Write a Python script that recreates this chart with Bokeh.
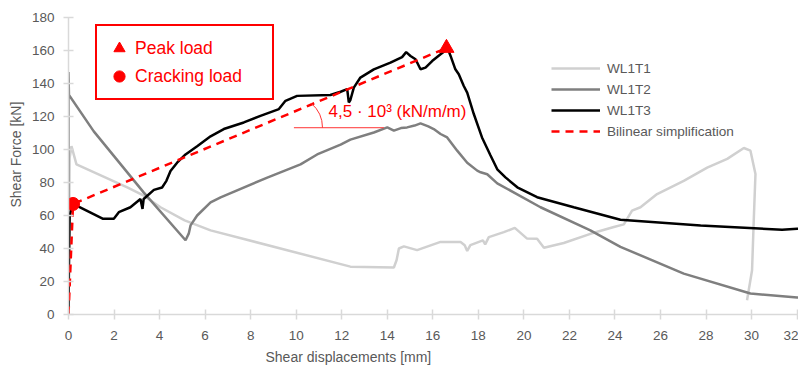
from bokeh.plotting import figure
from bokeh.models import Legend, LegendItem, Range1d, FixedTicker, Title
from bokeh.core.properties import value
from bokeh.embed import file_html
from bokeh.resources import INLINE

# Shear force vs. shear displacement for three wall specimens
wl1t1_x = [0, 0.05, 0.13, 0.35, 2.58, 3.31, 4.04, 5.1, 6.24, 9.31, 12.38, 14.29, 14.41, 14.51,
           14.73, 15.31, 16.34, 17.22, 17.4, 17.51, 17.65, 18.2, 18.3, 18.46, 19.12, 19.6, 20.14,
           20.58, 20.88, 21.75, 22.92, 23.95, 24.39, 24.75, 25.12, 25.85, 27.02, 28.05, 28.93,
           29.66, 29.95, 30.17, 30.1, 30.02, 29.8]
wl1t1_y = [0, 95, 102, 91, 77, 72, 65, 57, 51, 40, 29, 28.5, 33, 40,
           41.3, 39, 44, 43.9, 42, 38.5, 42, 44.9, 42.5, 46.9, 49.9, 52.5, 46,
           45.9, 40.5, 43.3, 48.9, 53, 54.6, 63, 65, 73, 81, 89, 94.3,
           100.9, 99.3, 85.2, 59, 26.8, 8.6]

wl1t2_x = [0, 0, 0.02, 1.11, 3.3, 5.14, 5.28, 5.36, 5.65, 6.24, 6.68, 8.73, 10.19, 10.92, 11.95,
           12.38, 13.41, 14.0, 14.29, 14.6, 14.87, 15.2, 15.46, 15.8, 16.04, 16.34, 16.63, 17.07,
           17.51, 17.95, 18.1, 18.39, 18.83, 20.73, 22.92, 24.24, 27.02, 29.95, 32.0, 32.2]
wl1t2_y = [0, 147, 133, 111, 74, 45, 49, 54, 60, 68, 71, 83, 91, 97, 103,
           106, 110.3, 113.4, 111.4, 113, 113.4, 114.5, 115.8, 114, 112.4, 109.4, 107.3, 99.3,
           92, 87.2, 86.2, 85, 79.5, 65, 51, 41, 24.8, 12.7, 10.3, 10]

wl1t3_x = [0, 0.02, 0.05, 0.2, 1.52, 1.99, 2.21, 2.72, 3.16, 3.25, 3.3, 3.75, 4.11, 4.3, 4.48,
           4.77, 5.14, 5.65, 6.24, 6.82, 7.7, 8.43, 9.24, 9.53, 10.04, 11.5, 11.95, 12.24, 12.31,
           12.38, 12.53, 12.82, 13.41, 14.14, 14.65, 14.83, 15.02, 15.24, 15.46, 15.68, 15.97,
           16.34, 16.66, 16.78, 16.99, 17.14, 17.36, 17.51, 17.8, 18.16, 18.53, 18.83, 19.19,
           19.71, 20.58, 22.19, 24.24, 27.76, 31.34, 32.0, 32.2]
wl1t3_y = [0, 30, 60, 67, 58, 58, 62, 65, 70, 64, 70, 75.5, 77, 81, 87,
           92, 97, 102, 108, 112.4, 116.4, 120.4, 124.5, 129.5, 132.5, 133, 135, 136.6, 128.5,
           130, 137.5, 143.6, 148.6, 152.6, 156, 159, 156.7, 154.7, 148.6, 149.6, 153.6,
           157.7, 161, 156.7, 148.6, 145.6, 138.5, 134.5, 121.5, 107.3, 96.5, 88, 83.1,
           77.1, 71.1, 65, 57.4, 54, 51.4, 52, 52]

# Bilinear simplification: origin -> cracking load -> peak load
bilinear_x = [0, 0.2, 16.6]
bilinear_y = [0, 67, 161.5]
peak_x, peak_y = [16.6], [161.5]
crack_x, crack_y = [0.2], [67]

# Stiffness annotation
stiffness_text = ["4,5 · 10³ (kN/m/m)"]
stiffness_text_x, stiffness_text_y = [11.42], [122.8]
stiffness_ref_x = [9.9, 13.85]
stiffness_ref_y = [113.2, 113.2]
stiffness_arc_x, stiffness_arc_y = [9.75], [113.2]

x_ticks = list(range(0, 33, 2))
y_ticks = list(range(0, 181, 20))

FONT = "Liberation Sans"
TEXT_GRAY = "#595959"
AXIS_GRAY = "#d9d9d9"

p = figure(width=798, height=371, output_backend="svg", toolbar_location=None,
           x_range=Range1d(0, 32.06), y_range=Range1d(0, 180),
           min_border_left=68, min_border_right=0, min_border_top=17, min_border_bottom=57)
p.outline_line_color = None
p.xgrid.visible = False
p.ygrid.visible = False

for ax in (p.xaxis[0], p.yaxis[0]):
    ax.axis_line_color = AXIS_GRAY
    ax.axis_line_width = 1.5
    ax.major_tick_line_color = AXIS_GRAY
    ax.major_tick_line_width = 1.5
    ax.major_tick_in = 5
    ax.major_tick_out = 5
    ax.minor_tick_line_color = None
    ax.major_label_text_font = FONT
    ax.major_label_text_font_size = "13.5px"
    ax.major_label_text_color = TEXT_GRAY
p.xaxis.ticker = FixedTicker(ticks=x_ticks)
p.yaxis.ticker = FixedTicker(ticks=y_ticks)
p.xaxis.major_label_standoff = 11
p.yaxis.major_label_standoff = 9

r_t1 = p.line(wl1t1_x, wl1t1_y, line_color="#d0d0d0", line_width=2.5)
r_t2 = p.line(wl1t2_x, wl1t2_y, line_color="#7f7f7f", line_width=2.5)
r_t3 = p.line(wl1t3_x, wl1t3_y, line_color="#000000", line_width=2.5)
r_bl = p.line(bilinear_x, bilinear_y, line_color="#ff0000", line_width=2.5, line_dash="8 6")
r_peak = p.scatter(peak_x, peak_y, marker="triangle", size=15, color="#ff0000")
r_crack = p.scatter(crack_x, crack_y, marker="circle", size=13, color="#ff0000")

# stiffness angle marker and label
p.line(stiffness_ref_x, stiffness_ref_y, line_color="#ff3333", line_width=1)
p.arc(stiffness_arc_x, stiffness_arc_y, radius=32, radius_units="screen",
      start_angle=0, end_angle=0.87, line_color="#ff3333", line_width=1)
p.text(stiffness_text_x, stiffness_text_y, text=stiffness_text, text_font=value(FONT),
       text_font_size="17px", text_color="#ff0000", text_baseline="middle")

# axis titles
p.add_layout(Title(text="Shear displacements [mm]", align="left", offset=197, standoff=8,
                   text_font=FONT, text_font_size="14px", text_font_style="normal",
                   text_color=TEXT_GRAY), "below")
p.add_layout(Title(text="Shear Force  [kN]", align="left", offset=107, standoff=10,
                   text_font=FONT, text_font_size="14px", text_font_style="normal",
                   text_color=TEXT_GRAY), "left")

series_legend = Legend(items=[LegendItem(label="WL1T1", renderers=[r_t1]),
                              LegendItem(label="WL1T2", renderers=[r_t2]),
                              LegendItem(label="WL1T3", renderers=[r_t3]),
                              LegendItem(label="Bilinear simplification", renderers=[r_bl])],
                       location=(483, 173), border_line_color=None, background_fill_alpha=0,
                       glyph_width=49, glyph_height=20, label_height=20, spacing=1, padding=5,
                       label_standoff=7, label_text_font=FONT, label_text_font_size="13.6px",
                       label_text_color=TEXT_GRAY, margin=0)
marker_legend = Legend(items=[LegendItem(label="Peak load", renderers=[r_peak]),
                              LegendItem(label="Cracking load", renderers=[r_crack])],
                       location=(27, 214), border_line_color="#ff0000", border_line_width=2,
                       border_line_alpha=1, background_fill_color="white", padding=8,
                       glyph_width=28, glyph_height=28, label_height=28, spacing=0,
                       label_standoff=2, label_width=129, label_text_font=FONT,
                       label_text_font_size="17.5px", label_text_color="#ff0000", margin=0)
p.add_layout(series_legend, "center")
p.add_layout(marker_legend, "center")

open("out.html", "w").write(file_html(p, INLINE))
